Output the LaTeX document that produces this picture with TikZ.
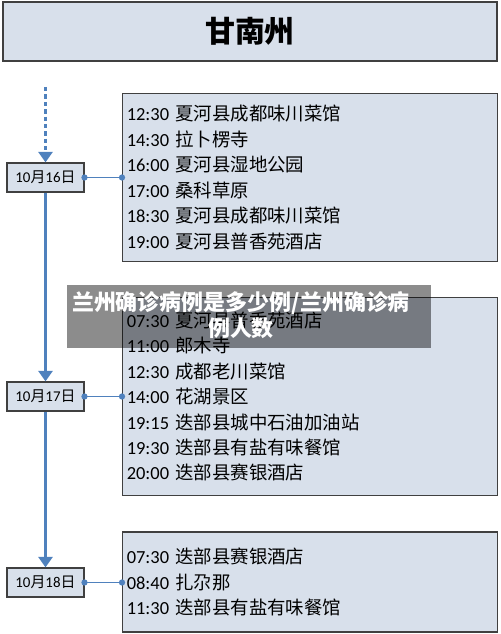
\documentclass[tikz,border=0pt]{standalone}
\usepackage{fontspec}
\setmainfont{Carlito}
\newfontfamily\cjk{Noto Sans CJK SC}
\usetikzlibrary{arrows.meta}
\definecolor{boxfill}{RGB}{216,224,235}
\definecolor{boxline}{RGB}{64,64,64}
\definecolor{lineblue}{RGB}{79,129,189}
\newcommand\spot[2]{#1 {\cjk #2}}
\newcommand\octday[1]{10{\cjk 月}#1{\cjk 日}}

\begin{document}
\begin{tikzpicture}[x=0.02cm, y=-0.02cm,
    area/.style={draw=boxline, fill=boxfill, line width=0.8pt},
    datebox/.style={area, minimum width=43.6pt, minimum height=16.4pt, inner sep=0pt, font=\fontsize{8.5}{10}\selectfont},
    placebox/.style={area, minimum width=213.2pt, inner xsep=2.3pt, text width=208.6pt, align=left, font=\fontsize{10.5}{14.5}\selectfont},
    flow/.style={draw=lineblue, line width=1.6pt, -{Triangle[width=8pt,length=6pt]}},
    link/.style={draw=lineblue, line width=0.9pt, {Circle[length=3.5pt]}-{Circle[length=3.5pt]}, shorten <=-1.75pt, shorten >=-1.75pt}]
    \useasboundingbox (0,0) rectangle (500,634);

    % Title
    \node[area, minimum width=281.2pt, minimum height=33.4pt, font=\cjk\bfseries\fontsize{17}{20}\selectfont] (title) at (250,31.5) {甘南州};

    % Days
    \coordinate (top) at (45.5,87);
    \node[datebox] (d16) at (45.5,177.5) {\octday{16}};
    \node[datebox] (d17) at (45.5,396.5) {\octday{17}};
    \node[datebox] (d18) at (45.5,582.5) {\octday{18}};

    % Places
    \node[placebox, minimum height=95.8pt] (p16) at (310,177.5) {
      \spot{12:30}{夏河县成都味川菜馆}\\
      \spot{14:30}{拉卜楞寺}\\
      \spot{16:00}{夏河县湿地公园}\\
      \spot{17:00}{桑科草原}\\
      \spot{18:30}{夏河县成都味川菜馆}\\
      \spot{19:00}{夏河县普香苑酒店}};
    \node[placebox, minimum height=112.8pt] (p17) at (310,396.5) {
      \spot{07:30}{夏河县普香苑酒店}\\
      \spot{11:00}{郎木寺}\\
      \spot{12:30}{成都老川菜馆}\\
      \spot{14:00}{花湖景区}\\
      \spot{19:15}{迭部县城中石油加油站}\\
      \spot{19:30}{迭部县有盐有味餐馆}\\
      \spot{20:00}{迭部县赛银酒店}};
    \node[placebox, minimum height=56.7pt] (p18) at (310,582) {
      \spot{07:30}{迭部县赛银酒店}\\
      \spot{08:40}{扎尕那}\\
      \spot{11:30}{迭部县有盐有味餐馆}};

    % Timeline
    \draw[flow, dash pattern=on 2.5pt off 1.7pt] (top) -- (d16);
    \draw[flow] (d16) -- (d17);
    \draw[flow] (d17) -- (d18);
    \draw[link] (d16) -- (p16);
    \draw[link] (d17) -- (p17);
    \draw[link] (d18) -- (p18.west |- d18);

    % Overlay
    \fill[black, opacity=0.45] (67,285) rectangle (431,348);
    \node[text=white, align=center, font=\cjk\bfseries\fontsize{12.5}{14.7}\selectfont] (mark) at (241,315.5) {兰州确诊病例是多少例/兰州确诊病\\例人数};
\end{tikzpicture}
\end{document}
